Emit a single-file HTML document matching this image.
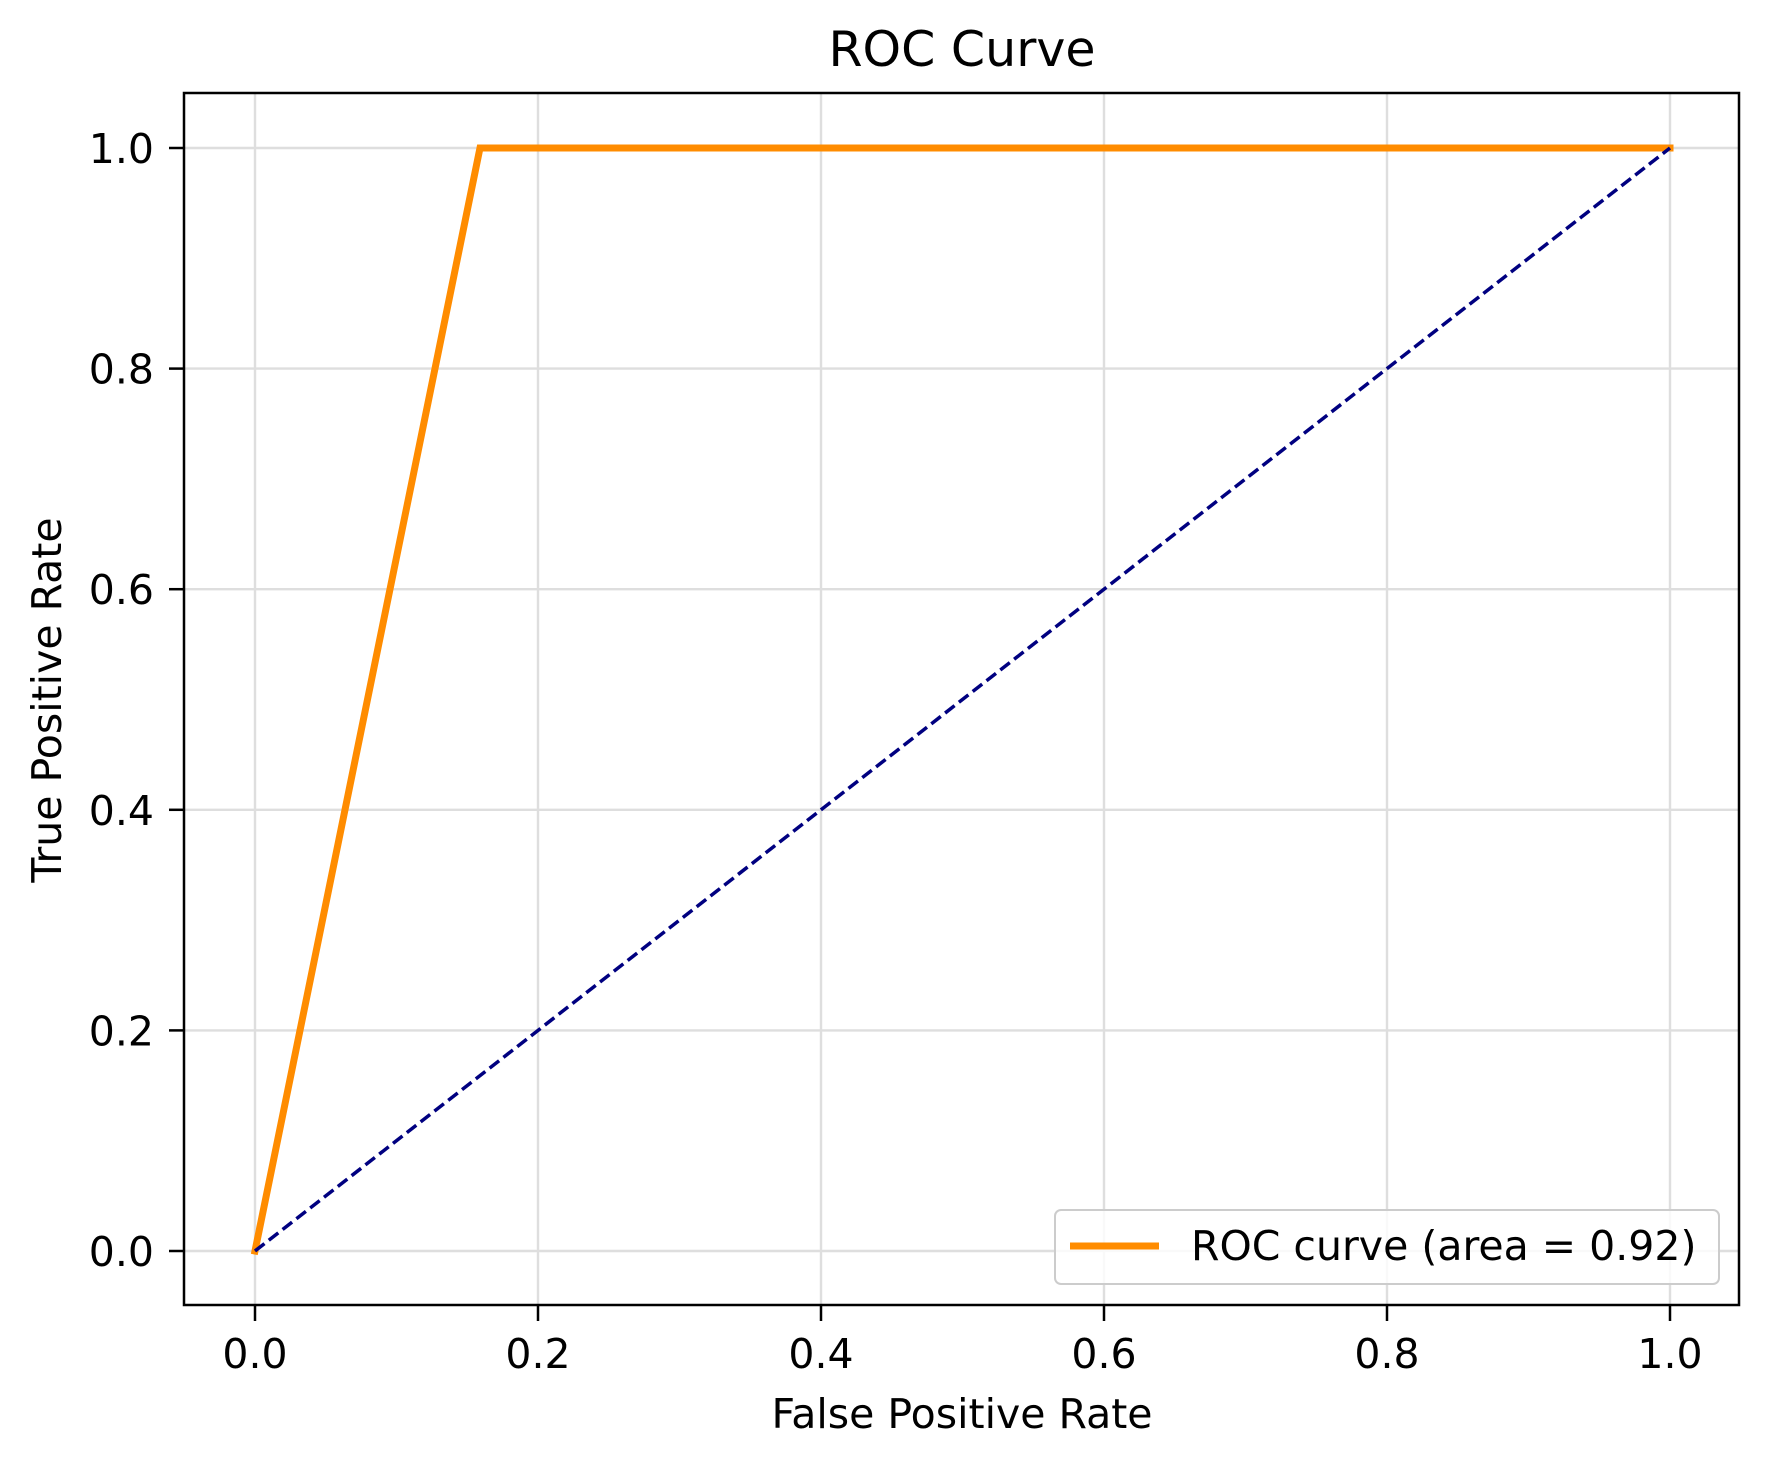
<!DOCTYPE html>
<html><head><meta charset="utf-8"><style>
html,body{margin:0;padding:0;background:#fff;}
svg{display:block;font-family:"DejaVu Sans","Liberation Sans",sans-serif;}
</style></head><body>
<svg id="chart" width="1770" height="1466" viewBox="0 0 1770 1466" xmlns="http://www.w3.org/2000/svg">
<rect width="1770" height="1466" fill="#fff"/>
<g id="grid"></g>
<g id="marks"></g>
<rect x="184" y="93" width="1555" height="1212" fill="none" stroke="#000" stroke-width="2.5"/>
<g id="ticks"></g>
<text x="962" y="66" font-size="49" text-anchor="middle">ROC Curve</text>
<text x="962" y="1428" font-size="41" text-anchor="middle">False Positive Rate</text>
<text x="61" y="700" font-size="41" text-anchor="middle" transform="rotate(-90 61 700)">True Positive Rate</text>
<g>
<rect x="1055" y="1210" width="664" height="74" rx="6" fill="#fff" fill-opacity="0.8" stroke="#ccc" stroke-width="2"/>
<line x1="1070" y1="1246" x2="1159" y2="1246" stroke="#ff8c00" stroke-width="7"/>
<text x="1191" y="1260" font-size="41">ROC curve (area = 0.92)</text>
</g>
</svg>
<script>
const fpr = [0, 0.159, 1];
const tpr = [0, 1, 1];
const diagX = [0, 1];
const diagY = [0, 1];
const xTicks = [0, 0.2, 0.4, 0.6, 0.8, 1.0];
const yTicks = [0, 0.2, 0.4, 0.6, 0.8, 1.0];
const xTickLabels = ["0.0","0.2","0.4","0.6","0.8","1.0"];
const yTickLabels = ["0.0","0.2","0.4","0.6","0.8","1.0"];
const NS = "http://www.w3.org/2000/svg";
const sx = v => 255 + v * 1415;
const sy = v => 1251 - v * 1103;
function mk(tag, attrs, parent) {
  const e = document.createElementNS(NS, tag);
  for (const k in attrs) e.setAttribute(k, attrs[k]);
  parent.appendChild(e);
  return e;
}
const grid = document.getElementById('grid'), ticks = document.getElementById('ticks'), marks = document.getElementById('marks');
xTicks.forEach((v, i) => {
  const g = mk('line', {x1: sx(v), x2: sx(v), y1: 93, y2: 1305, stroke: '#dedede', 'stroke-width': 2.4}, grid);
  
  
  const t = mk('line', {x1: sx(v), x2: sx(v), y1: 1305, y2: 1321, stroke: '#000', 'stroke-width': 2.5}, ticks);
  
  
  const l = mk('text', {x: sx(v), y: 1368, 'font-size': 41, 'text-anchor': 'middle'}, ticks);
  l.textContent = xTickLabels[i];
  
  
});
yTicks.forEach((v, i) => {
  const g = mk('line', {x1: 184, x2: 1739, y1: sy(v), y2: sy(v), stroke: '#dedede', 'stroke-width': 2.4}, grid);
  
  
  const t = mk('line', {x1: 169, x2: 184, y1: sy(v), y2: sy(v), stroke: '#000', 'stroke-width': 2.5}, ticks);
  
  
  const l = mk('text', {x: 154, y: sy(v) + 15, 'font-size': 41, 'text-anchor': 'end'}, ticks);
  l.textContent = yTickLabels[i];
  
  
});
const roc = mk('polyline', {points: fpr.map((v, i) => sx(v) + ',' + sy(tpr[i])).join(' '), fill: 'none', stroke: '#ff8c00', 'stroke-width': 7, 'stroke-linecap': 'square'}, marks);


const diag = mk('polyline', {points: diagX.map((v, i) => sx(v) + ',' + sy(diagY[i])).join(' '), fill: 'none', stroke: '#000080', 'stroke-width': 3.5, 'stroke-dasharray': '12 5.5'}, marks);


</script>
</body></html>
